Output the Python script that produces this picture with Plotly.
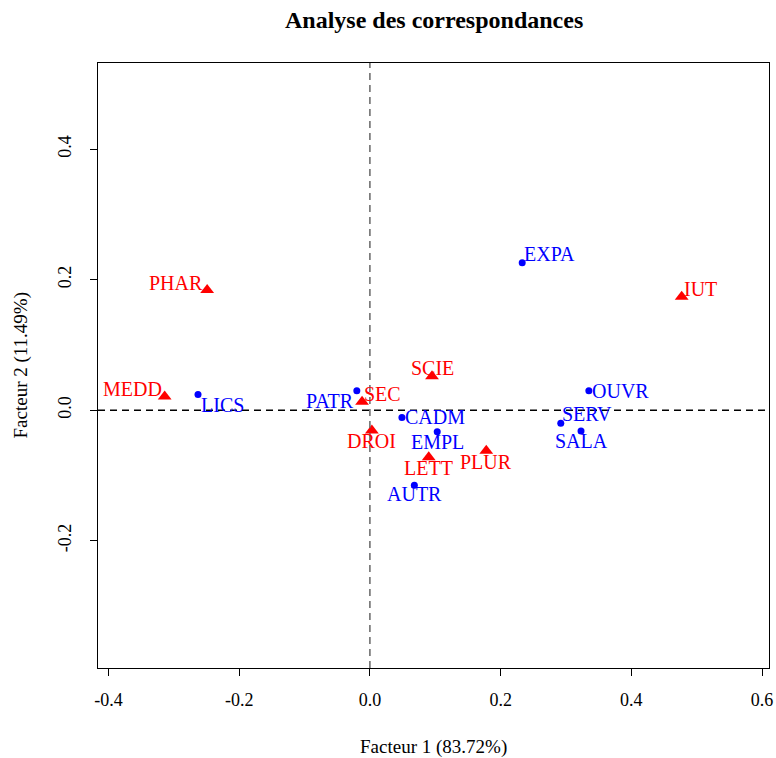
import plotly.graph_objects as go

# Column categories (red triangles)
col_labels = ["PHAR", "MEDD", "SEC", "DROI", "SCIE", "LETT", "PLUR", "IUT"]
col_x = [-0.249, -0.314, -0.012, 0.003, 0.095, 0.090, 0.178, 0.477]
col_y = [0.184, 0.021, 0.013, -0.031, 0.052, -0.072, -0.062, 0.174]

# Row categories (blue dots)
row_labels = ["LICS", "PATR", "CADM", "EMPL", "AUTR", "EXPA", "OUVR", "SERV", "SALA"]
row_x = [-0.263, -0.020, 0.049, 0.103, 0.068, 0.233, 0.335, 0.292, 0.323]
row_y = [0.024, 0.030, -0.011, -0.033, -0.115, 0.226, 0.030, -0.020, -0.032]

x_ticks = [-0.4, -0.2, 0.0, 0.2, 0.4, 0.6]
y_ticks = [-0.2, 0.0, 0.2, 0.4]

# label offsets in pixels (dx, dy with dy positive = down)
col_off = {"PHAR": (-31, -7), "MEDD": (-32, -8), "SEC": (20, -8), "DROI": (0, 11),
           "SCIE": (0, -8), "LETT": (0, 11), "PLUR": (0, 11), "IUT": (19, -8)}
row_off = {"LICS": (24, 10), "PATR": (-27, 10), "CADM": (33, 0), "EMPL": (0, 10),
           "AUTR": (0, 9), "EXPA": (27, -9), "OUVR": (32, 0), "SERV": (26, -9),
           "SALA": (0, 10)}

FONT = "Liberation Serif"
RED = "#ff0000"
BLUE = "#0000ff"

fig = go.Figure()
fig.add_trace(go.Scatter(x=row_x, y=row_y, mode="markers",
                         marker=dict(symbol="circle", size=7, color=BLUE),
                         hovertext=row_labels, showlegend=False))
fig.add_trace(go.Scatter(x=col_x, y=col_y, mode="markers",
                         marker=dict(symbol="triangle-up", size=12, color=RED),
                         hovertext=col_labels, showlegend=False))

for lab, x, y in zip(col_labels, col_x, col_y):
    dx, dy = col_off[lab]
    fig.add_annotation(x=x, y=y, text=lab, showarrow=False, xshift=dx, yshift=-dy,
                       xanchor="center", yanchor="middle",
                       font=dict(family=FONT, size=20, color=RED))
for lab, x, y in zip(row_labels, row_x, row_y):
    dx, dy = row_off[lab]
    fig.add_annotation(x=x, y=y, text=lab, showarrow=False, xshift=dx, yshift=-dy,
                       xanchor="center", yanchor="middle",
                       font=dict(family=FONT, size=20, color=BLUE))

# title & axis titles
fig.add_annotation(text="<b>Analyse des correspondances</b>", xref="paper", yref="paper",
                   x=0.5, y=1, yshift=43, xanchor="center", yanchor="middle", showarrow=False,
                   font=dict(family=FONT, size=24, color="black"))
fig.add_annotation(text="Facteur 1 (83.72%)", xref="paper", yref="paper",
                   x=0.5, y=0, yshift=-79, xanchor="center", yanchor="middle", showarrow=False,
                   font=dict(family=FONT, size=19, color="black"))
fig.add_annotation(text="Facteur 2 (11.49%)", xref="paper", yref="paper",
                   x=0, y=0.5, xshift=-78, xanchor="center", yanchor="middle", showarrow=False,
                   textangle=-90, font=dict(family=FONT, size=19, color="black"))

fig.add_shape(type="line", x0=0, x1=0, y0=0, y1=1, xref="x", yref="paper",
              line=dict(color="#666666", width=1.5, dash="7px,5px"))
fig.add_shape(type="line", x0=0, x1=1, y0=0, y1=0, xref="paper", yref="y",
              line=dict(color="black", width=1.5, dash="7px,5px"))

fig.update_xaxes(range=[-0.416, 0.6106], tickvals=x_ticks, automargin=False,
                 ticktext=[f"{v:.1f}" for v in x_ticks], ticklabelstandoff=8,
                 showgrid=False, zeroline=False, showline=True, mirror=True,
                 linecolor="black", linewidth=1.2, ticks="outside", ticklen=7,
                 tickcolor="black", tickfont=dict(family=FONT, size=18, color="black"))
fig.update_yaxes(range=[-0.395, 0.532], tickvals=y_ticks, automargin=False,
                 ticktext=[f"{v:.1f}" for v in y_ticks], tickangle=-90,
                 ticklabelstandoff=12,
                 showgrid=False, zeroline=False, showline=True, mirror=True,
                 linecolor="black", linewidth=1.2, ticks="outside", ticklen=7,
                 tickcolor="black", tickfont=dict(family=FONT, size=18, color="black"))

fig.update_layout(width=776, height=758, margin=dict(l=98, r=7, t=63, b=90),
                  plot_bgcolor="white", paper_bgcolor="white")
fig.write_html("out.html")
